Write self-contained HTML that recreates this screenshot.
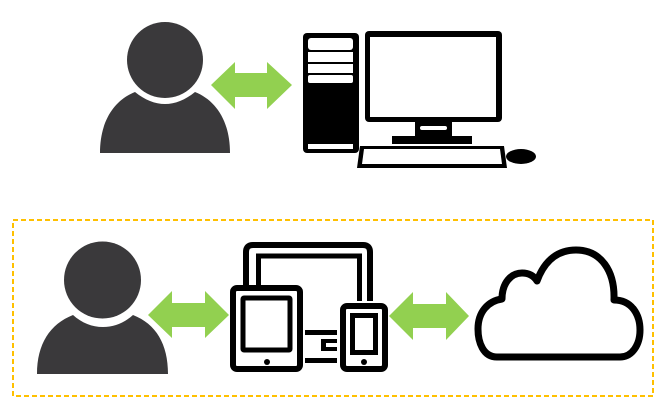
<!DOCTYPE html>
<html><head><style>html,body{margin:0;padding:0;background:#fff}svg{display:block}</style></head>
<body>
<svg width="662" height="406" viewBox="0 0 662 406" xmlns="http://www.w3.org/2000/svg">
<!-- top person -->
<path d="M100 153 C100 120 115 100 135 92 C145 100 155 104 165 104 C175 104 185 100 195 92 C215 100 230 120 230 153 Z" fill="#3a393b"/>
<circle cx="165" cy="60" r="38" fill="#3a393b"/>
<!-- top arrow -->
<polygon points="211,85 235,62 235,73 267,73 267,62 292,85 267,109 267,97 235,97 235,109" fill="#92d050"/>
<!-- tower -->
<rect x="303" y="33" width="56" height="120" rx="4" fill="#000"/>
<rect x="308" y="38" width="45" height="12" rx="3" fill="#fff"/>
<rect x="308" y="52" width="45" height="10" fill="#fff"/>
<rect x="308" y="64" width="45" height="9" fill="#fff"/>
<rect x="308" y="75" width="45" height="8" rx="2" fill="#fff"/>
<rect x="308" y="144" width="45" height="5" fill="#fff"/>
<!-- monitor -->
<rect x="365" y="31" width="137" height="91" rx="4" fill="#000"/>
<rect x="370" y="37" width="126" height="80" fill="#fff"/>
<rect x="415" y="121" width="37" height="15" fill="#000"/>
<rect x="420" y="126" width="27" height="4" rx="2" fill="#fff"/>
<rect x="392" y="136" width="80" height="8" fill="#000"/>
<!-- keyboard -->
<polygon points="360,146 504,146 507,168 357,168" fill="#000"/>
<polygon points="364,149 500,149 502,164 362,164" fill="#fff"/>
<ellipse cx="521" cy="156.5" rx="15" ry="7.5" fill="#000"/>
<!-- dashed box -->
<rect x="13" y="220" width="640" height="176" fill="none" stroke="#ffc000" stroke-width="2" stroke-dasharray="5,3"/>
<!-- bottom person -->
<path d="M37 374 C37 344 50 324 73 315 C82 323 92 327 103 327 C114 327 124 323 133 315 C156 324 168 344 168 374 Z" fill="#3a393b"/>
<circle cx="102.5" cy="280" r="38.5" fill="#3a393b"/>
<!-- arrow 1 -->
<polygon points="148,315 172,291 172,303 205,303 205,291 229,315 205,338 205,327 172,327 172,338" fill="#92d050"/>
<!-- arrow 2 -->
<polygon points="389,316 413,292 413,304 446,304 446,292 469,316 446,340 446,328 413,328 413,340" fill="#92d050"/>
<!-- monitor frame -->
<path d="M246 285 V252 Q246 245 253 245 H363 Q370 245 370 252 V301" fill="none" stroke="#000" stroke-width="6"/>
<path d="M258.5 285 V256 H359.5 V301" fill="none" stroke="#000" stroke-width="5"/>
<!-- tablet -->
<rect x="233" y="288" width="67" height="81" rx="4" fill="#fff" stroke="#000" stroke-width="6"/>
<rect x="243" y="298" width="47" height="52" rx="1" fill="#fff" stroke="#000" stroke-width="5"/>
<circle cx="267" cy="362" r="3" fill="#000"/>
<!-- stand -->
<rect x="305" y="330" width="32" height="5" fill="#000"/>
<rect x="305" y="358" width="32" height="5" fill="#000"/>
<rect x="321" y="339" width="16" height="12" fill="#000"/>
<rect x="326" y="343" width="11" height="4" fill="#fff"/>
<!-- phone -->
<rect x="343" y="306" width="42" height="63" rx="4" fill="#fff" stroke="#000" stroke-width="6"/>
<rect x="352.5" y="315.5" width="23" height="37" fill="#fff" stroke="#000" stroke-width="5"/>
<circle cx="364" cy="362" r="3" fill="#000"/>
<!-- cloud -->
<path d="M497 357 C483 357 478 342 478 329 C478 312 488 301 502 299 C502 283 511 273 522 273 C529 273 534 276 537 281 C545 259 559 250 576 250 C601 250 615 271 614 300 C632 300 640 315 640 330 C640 345 632 357 620 357 Z" fill="#fff" stroke="#000" stroke-width="7" stroke-linejoin="round"/>
</svg>
</body></html>
